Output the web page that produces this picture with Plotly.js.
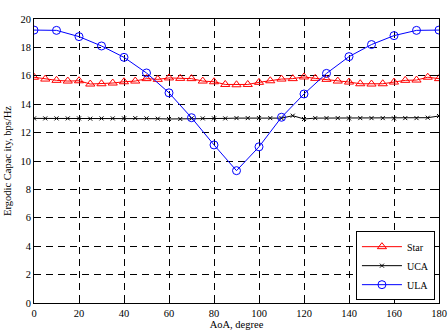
<!DOCTYPE html>
<html>
<head>
<meta charset="utf-8">
<script src="https://cdn.plot.ly/plotly-3.0.1.min.js"></script>
<style>html,body{margin:0;padding:0;background:#fff;}#chart{width:448px;height:332px;}</style>
</head>
<body>
<div id="chart"></div>
<script>
const starAngles = [0,5,10,15,20,25,30,35,40,45,50,55,60,65,70,75,80,85,90,95,100,105,110,115,120,125,130,135,140,145,150,155,160,165,170,175,180];
const starValues = [15.9,15.77,15.68,15.63,15.65,15.42,15.44,15.49,15.58,15.63,15.8,15.75,15.85,15.82,15.8,15.63,15.58,15.39,15.37,15.39,15.54,15.65,15.77,15.8,15.92,15.82,15.75,15.63,15.56,15.44,15.42,15.44,15.56,15.68,15.7,15.9,15.8];
const ucaAngles = starAngles;
const ucaValues = [13.0,13.0,13.0,13.0,13.0,12.98,13.0,13.0,13.0,13.02,13.0,12.98,12.96,12.96,13.0,13.0,13.0,13.0,13.02,13.02,13.02,13.02,13.02,13.19,12.96,13.02,13.02,13.02,13.0,13.02,13.02,13.02,13.0,13.02,13.02,13.05,13.17];
const ulaAngles = [0,10,20,30,40,50,60,70,80,90,100,110,120,130,140,150,160,170,180];
const ulaValues = [19.22,19.2,18.76,18.1,17.3,16.2,14.8,13.05,11.13,9.32,11.0,13.08,14.72,16.17,17.35,18.2,18.83,19.2,19.22];
const xTicks = [0,20,40,60,80,100,120,140,160,180];
const yTicks = [0,2,4,6,8,10,12,14,16,18,20];

const serif = 'Liberation Serif, Times New Roman, serif';
const traces = [
  {x: starAngles, y: starValues, name: 'Star', mode: 'lines+markers', type: 'scatter',
   line: {color: '#ff0000', width: 1}, marker: {symbol: 'triangle-up-open', size: 8, color: '#ff0000', line: {width: 1}}},
  {x: ucaAngles, y: ucaValues, name: 'UCA', mode: 'lines+markers', type: 'scatter',
   line: {color: '#000000', width: 1}, marker: {symbol: 'x-thin-open', size: 4, color: '#000000', line: {width: 1, color: '#000'}}},
  {x: ulaAngles, y: ulaValues, name: 'ULA', mode: 'lines+markers', type: 'scatter',
   line: {color: '#0000ff', width: 1}, marker: {symbol: 'circle-open', size: 8, color: '#0000ff', line: {width: 1}}}
];
const axisCommon = {
  showline: true, linecolor: '#000', linewidth: 1, mirror: 'allticks',
  ticks: 'inside', ticklen: 4, tickcolor: '#000',
  showgrid: true, gridcolor: '#000', griddash: '7px,5px', gridwidth: 1,
  zeroline: false, tickfont: {family: serif, size: 10.5, color: '#000'},
  ticklabeloverflow: 'allow'
};
const layout = {
  width: 448, height: 332,
  margin: {l: 34, r: 9, t: 19, b: 29},
  paper_bgcolor: '#fff', plot_bgcolor: '#fff',
  font: {family: serif, color: '#000'},
  xaxis: Object.assign({}, axisCommon, {range: [0, 180], tickvals: xTicks,
    title: {text: 'AoA, degree', font: {family: serif, size: 10.5, color: '#000'}, standoff: 2}}),
  yaxis: Object.assign({}, axisCommon, {range: [0, 20], tickvals: yTicks,
    title: {text: 'Ergodic Capac ity, bps/Hz', font: {family: serif, size: 10.5, color: '#000'}, standoff: 6}}),
  showlegend: true,
  legend: {x: 0.99, y: 0.01, xanchor: 'right', yanchor: 'bottom', bgcolor: '#fff',
    bordercolor: '#000', borderwidth: 1, font: {family: serif, size: 10, color: '#000'},
    tracegroupgap: 0, itemwidth: 40}
};
Plotly.newPlot('chart', traces, layout, {displayModeBar: false, staticPlot: true});
</script>
</body>
</html>
